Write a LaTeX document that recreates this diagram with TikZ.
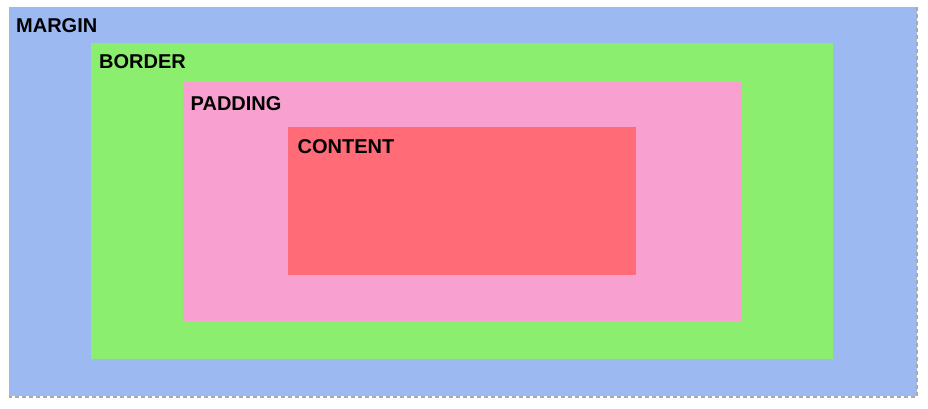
\documentclass[tikz,border=0pt]{standalone}
\usepackage{fontspec}
\setmainfont{Liberation Sans}
\definecolor{marginc}{HTML}{9CB9F2}
\definecolor{borderc}{HTML}{8CEE6E}
\definecolor{paddingc}{HTML}{F8A0D0}
\definecolor{contentc}{HTML}{FF6C78}
\definecolor{dashc}{HTML}{AAAAAA}
\begin{document}
\begin{tikzpicture}[x=1pt,y=-1pt,
  lbl/.style={anchor=base west,inner sep=0pt,font=\fontsize{20}{22}\selectfont\bfseries,text=black}]
\useasboundingbox (0,0) rectangle (928,409);
\fill[white] (0,0) rectangle (928,409);
\fill[marginc] (9,7) rectangle (917,396);
\draw[dashc,line width=1.6pt,dash pattern=on 4pt off 3pt] (917,7) -- (917,397) -- (9,397);
\fill[borderc] (91,43) rectangle (833,359);
\fill[paddingc] (183,82) rectangle (741,321);
\fill[contentc] (288,127) rectangle (636,275);
\node[lbl] (margin) at (16,32.7) {MARGIN};
\node[lbl] (border) at (99,69) {BORDER};
\node[lbl] (padding) at (190.5,110.7) {PADDING};
\node[lbl] (content) at (297.5,153.3) {CONTENT};
\end{tikzpicture}
\end{document}
